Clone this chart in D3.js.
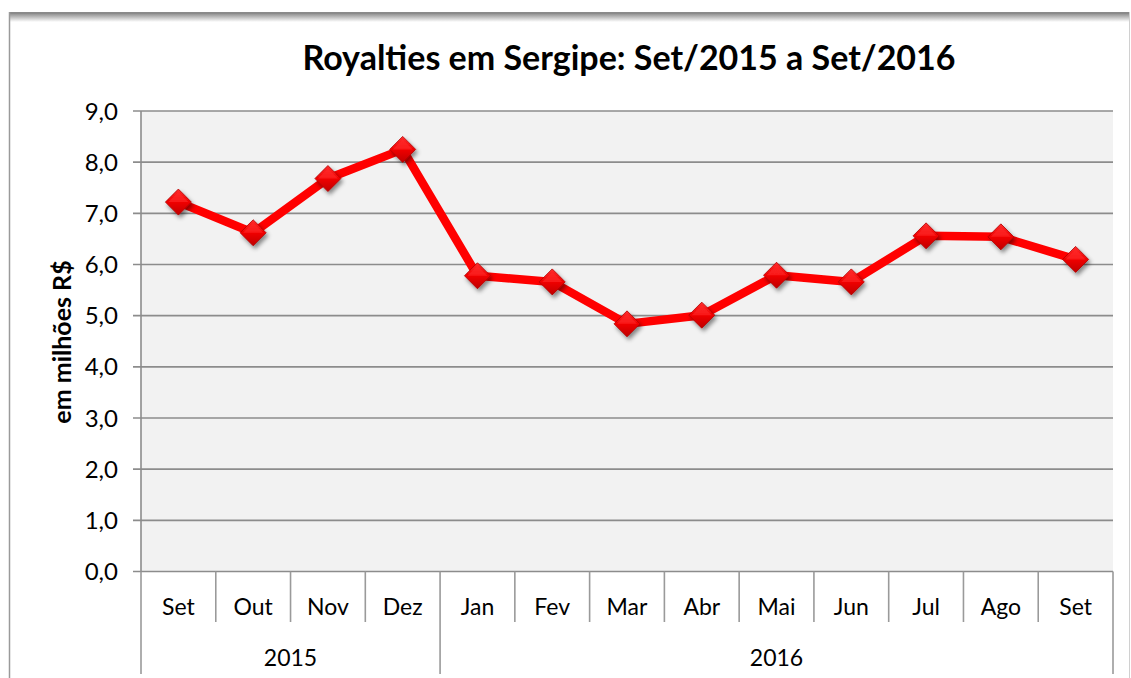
<!DOCTYPE html>
<html><head><meta charset="utf-8">
<script src="https://cdn.jsdelivr.net/npm/d3@7"></script>
<style>body{margin:0;background:#fff;}svg{display:block;font-family:Lato,"Open Sans",sans-serif;}</style>
</head><body>
<svg id="c" width="1131" height="678"></svg>
<script>
const months = ["Set","Out","Nov","Dez","Jan","Fev","Mar","Abr","Mai","Jun","Jul","Ago","Set"];
const years = [{label:"2015", span:4},{label:"2016", span:9}];
const values = [7.22, 6.62, 7.68, 8.25, 5.78, 5.66, 4.84, 5.01, 5.79, 5.66, 6.56, 6.54, 6.10];
const yTicks = [0,1,2,3,4,5,6,7,8,9];
const title = "Royalties em Sergipe: Set/2015 a Set/2016";
const yTitle = "em milhões R$";

const svg = d3.select("#c");
const W=1131,H=678;
const L=141,R=1113,T=111,B=571.5;
const defs = svg.append("defs");
const sg = defs.append("linearGradient").attr("id","topsh").attr("x1",0).attr("y1",0).attr("x2",0).attr("y2",1);
sg.append("stop").attr("offset","0").attr("stop-color","#7a7a7a");
sg.append("stop").attr("offset","1").attr("stop-color","#ffffff");
const dg = defs.append("linearGradient").attr("id","dia").attr("x1",0).attr("y1",0).attr("x2",0).attr("y2",1);
dg.append("stop").attr("offset","0").attr("stop-color","#ff3030");
dg.append("stop").attr("offset","0.5").attr("stop-color","#f00000");
dg.append("stop").attr("offset","1").attr("stop-color","#c00000");
const f = defs.append("filter").attr("id","shadow").attr("x","-50%").attr("y","-50%").attr("width","200%").attr("height","200%");
f.append("feDropShadow").attr("dx",2).attr("dy",3).attr("stdDeviation",2).attr("flood-color","#000").attr("flood-opacity",0.45);

// frame
svg.append("rect").attr("x",9).attr("y",12).attr("width",1121).attr("height",10).attr("fill","url(#topsh)");
svg.append("rect").attr("x",9).attr("y",12).attr("width",1121).attr("height",2).attr("fill","#8a8a8a");
svg.append("line").attr("x1",9.5).attr("x2",9.5).attr("y1",12).attr("y2",H).attr("stroke","#9a9a9a").attr("stroke-width",1.5);
svg.append("line").attr("x1",1129.5).attr("x2",1129.5).attr("y1",12).attr("y2",H).attr("stroke","#d0d0d0").attr("stroke-width",1);

const x = d3.scaleBand().domain(d3.range(months.length)).range([L,R]).padding(0);
const y = d3.scaleLinear().domain([0,9]).range([B,T]);

svg.append("rect").attr("x",L).attr("y",T).attr("width",R-L).attr("height",B-T).attr("fill","#f2f2f2");

// grid
svg.append("g").selectAll("line").data(yTicks).join("line")
  .attr("x1",133).attr("x2",R).attr("y1",d=>y(d)).attr("y2",d=>y(d))
  .attr("stroke","#8c8c8c").attr("stroke-width",1.6);
svg.append("line").attr("x1",L).attr("x2",L).attr("y1",T).attr("y2",B).attr("stroke","#8c8c8c").attr("stroke-width",1.6);

// y labels
svg.append("g").selectAll("text").data(yTicks).join("text")
  .attr("x",118).attr("y",d=>y(d)+8.5).attr("text-anchor","end")
  .attr("font-size",24).attr("fill","#000").text(d=>d3.format(".1f")(d).replace(".",","));

// category dividers
const bounds = d3.range(months.length+1).map(i=> i<months.length ? x(i) : x(months.length-1)+x.bandwidth());
let acc=0; const yearB=[0]; years.forEach(yy=>{acc+=yy.span; yearB.push(acc);});
svg.append("g").selectAll("line").data(d3.range(months.length+1)).join("line")
  .attr("x1",i=>bounds[i]).attr("x2",i=>bounds[i]).attr("y1",B)
  .attr("y2",i=>yearB.includes(i)?674:622)
  .attr("stroke","#9a9a9a").attr("stroke-width",1.6);

svg.append("g").selectAll("text").data(months).join("text")
  .attr("x",(d,i)=>x(i)+x.bandwidth()/2).attr("y",615).attr("text-anchor","middle")
  .attr("font-size",23).text(d=>d);
svg.append("g").selectAll("text").data(years).join("text")
  .attr("x",(d,i)=>(bounds[yearB[i]]+bounds[yearB[i+1]])/2).attr("y",666).attr("text-anchor","middle")
  .attr("font-size",23).text(d=>d.label);

// title
svg.append("text").attr("x",629).attr("y",70).attr("text-anchor","middle")
  .attr("font-size",34).attr("font-weight","bold").text(title);
svg.append("text").attr("transform","translate(71,342) rotate(-90)").attr("text-anchor","middle")
  .attr("font-size",25).attr("font-weight","bold").text(yTitle);

// line
const line = d3.line().x((d,i)=>x(i)+x.bandwidth()/2).y(d=>y(d));
svg.append("path").datum(values).attr("d",line).attr("fill","none")
  .attr("stroke","#ff0000").attr("stroke-width",8.5).attr("stroke-linejoin","round");

// markers
const s=13;
const mk = svg.append("g").selectAll("g").data(values).join("g")
  .attr("transform",(d,i)=>`translate(${x(i)+x.bandwidth()/2},${y(d)})`);
mk.append("path").attr("d",`M0,${-s}L${s},0L0,${s}L${-s},0Z`).attr("fill","url(#dia)")
  .attr("stroke","#b00000").attr("stroke-width",0.8).attr("filter","url(#shadow)");
mk.append("path").attr("d",`M0,${-s+3}L${s-3},0L${-s+3},0Z`).attr("fill","#ff2a2a").attr("opacity",0.6);
</script>
</body></html>
